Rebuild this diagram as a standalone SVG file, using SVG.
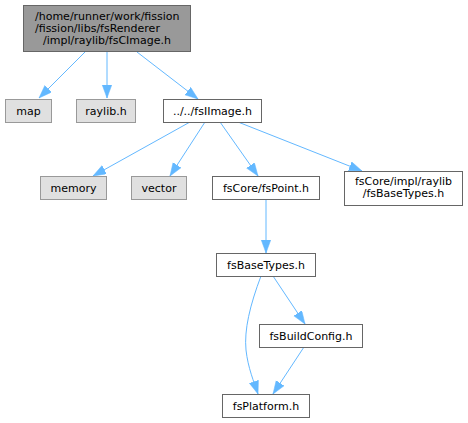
<svg xmlns="http://www.w3.org/2000/svg" width="468" height="423" viewBox="0 0 468 423">
<style>
text{font-family:"DejaVu Sans","Liberation Sans",sans-serif;font-size:11px;fill:#000}
.m{text-anchor:middle}
.root{fill:#999999;stroke:#666666}
.gray{fill:#e0e0e0;stroke:#999999}
.white{fill:#ffffff;stroke:#666666}
.e{fill:none;stroke:#63b8ff;stroke-width:1}
</style>
<defs>
<marker id="a" markerUnits="userSpaceOnUse" markerWidth="14" markerHeight="11" refX="13" refY="4.75" orient="auto">
<path d="M0,0 L13,4.75 L0,9.5 z" fill="#63b8ff" stroke="#63b8ff" stroke-width="0.5"/>
</marker>
</defs>
<rect width="468" height="423" fill="#ffffff"/>
<g id="edges">
<path class="e" marker-end="url(#a)" d="M85,52 L39,98"/>
<path class="e" marker-end="url(#a)" d="M107,52 L107,98"/>
<path class="e" marker-end="url(#a)" d="M137,52 L198,99"/>
<path class="e" marker-end="url(#a)" d="M190,122 L93,176"/>
<path class="e" marker-end="url(#a)" d="M205,122 L170,176"/>
<path class="e" marker-end="url(#a)" d="M220,122 L258,176"/>
<path class="e" marker-end="url(#a)" d="M238,122 L362,171"/>
<path class="e" marker-end="url(#a)" d="M266,199 L266,253"/>
<path class="e" marker-end="url(#a)" d="M261,276 C250,305 244,330 246,350 C248,368 254,382 258,394"/>
<path class="e" marker-end="url(#a)" d="M273,276 L305,324"/>
<path class="e" marker-end="url(#a)" d="M304,347 L273,394"/>
</g>
<g id="n_root">
<rect class="root" x="23.5" y="5.5" width="167" height="46"/>
<text x="35" y="19.5">/home/runner/work/fission</text>
<text x="35" y="31.5">/fission/libs/fsRenderer</text>
<text class="m" x="107" y="43.5">/impl/raylib/fsCImage.h</text>
</g>
<g id="n_map">
<rect class="gray" x="5.5" y="99.5" width="46" height="23"/>
<text class="m" x="28.5" y="114.5">map</text>
</g>
<g id="n_raylib">
<rect class="gray" x="76.5" y="99.5" width="59" height="23"/>
<text class="m" x="106" y="114.5">raylib.h</text>
</g>
<g id="n_fsIImage">
<rect class="white" x="163.5" y="99.5" width="98" height="23"/>
<text class="m" x="212.5" y="114.5">../../fsIImage.h</text>
</g>
<g id="n_memory">
<rect class="gray" x="40.5" y="176.5" width="66" height="23"/>
<text class="m" x="73.5" y="191.5">memory</text>
</g>
<g id="n_vector">
<rect class="gray" x="131.5" y="176.5" width="55" height="23"/>
<text class="m" x="159" y="191.5">vector</text>
</g>
<g id="n_fsPoint">
<rect class="white" x="212.5" y="176.5" width="107" height="23"/>
<text class="m" x="266" y="191.5">fsCore/fsPoint.h</text>
</g>
<g id="n_fsCoreBaseTypes">
<rect class="white" x="344.5" y="171.5" width="118" height="34"/>
<text class="m" x="403.5" y="184.5">fsCore/impl/raylib</text>
<text class="m" x="403.5" y="196.5">/fsBaseTypes.h</text>
</g>
<g id="n_fsBaseTypes">
<rect class="white" x="216.5" y="253.5" width="99" height="23"/>
<text class="m" x="266" y="268.5">fsBaseTypes.h</text>
</g>
<g id="n_fsBuildConfig">
<rect class="white" x="259.5" y="324.5" width="103" height="23"/>
<text class="m" x="311" y="339.5">fsBuildConfig.h</text>
</g>
<g id="n_fsPlatform">
<rect class="white" x="222.5" y="394.5" width="87" height="23"/>
<text class="m" x="266" y="409.5">fsPlatform.h</text>
</g>
</svg>
